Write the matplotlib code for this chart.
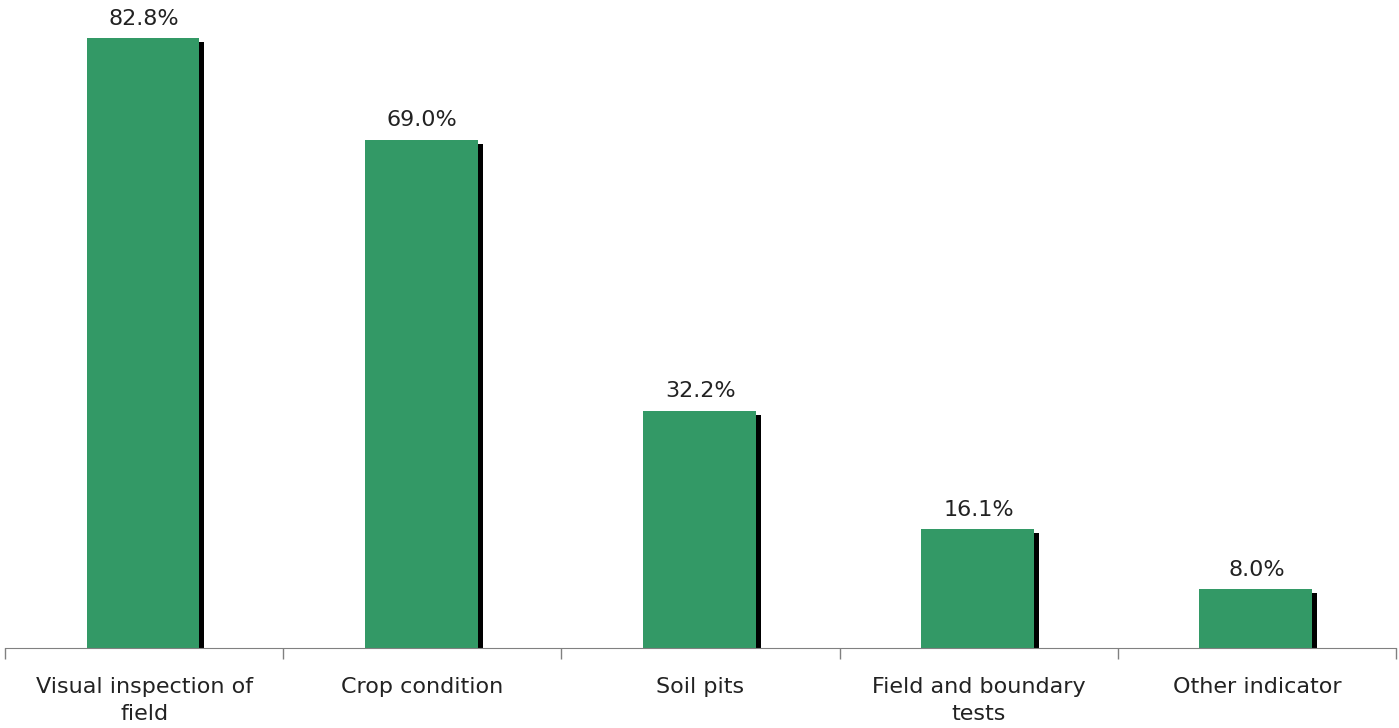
import matplotlib.pyplot as plt
import numpy as np

categories = ['Visual inspection of\nfield', 'Crop condition', 'Soil pits',
              'Field and boundary\ntests', 'Other indicator']
values = [82.8, 69.0, 32.2, 16.1, 8.0]
labels = ['82.8%', '69.0%', '32.2%', '16.1%', '8.0%']

fig = plt.figure(figsize=(13.99, 7.28), dpi=100)
ax = fig.add_axes([5 / 1399, 1 - 648 / 728, 1391 / 1399, 648 / 728])

x = np.arange(len(values))
w = 0.405
# shadow
ax.bar(x - 0.004 + 0.018, np.array(values) - 0.54, width=w, color='black', zorder=1)
ax.bar(x - 0.004, values, width=w, color='#339966', zorder=2)

for xi, v, lab in zip(x, values, labels):
    ax.text(xi, v + 1.3, lab, ha='center', va='bottom', fontsize=16, color='#222222')

ax.set_xlim(-0.5, len(values) - 0.5)
ax.set_ylim(0, 88)
ax.set_yticks([])
for s in ['top', 'right', 'left']:
    ax.spines[s].set_visible(False)
ax.spines['bottom'].set_color('#808080')
ax.spines['bottom'].set_zorder(3)

ax.set_xticks(x)
ax.set_xticklabels(categories, fontsize=16, color='#222222', linespacing=1.4)
ax.tick_params(axis='x', which='major', length=0, pad=21)
ax.set_xticks(np.arange(-0.5, len(values)), minor=True)
ax.tick_params(axis='x', which='minor', length=8, color='#808080', width=1)

fig.savefig('out.png', dpi=100)
